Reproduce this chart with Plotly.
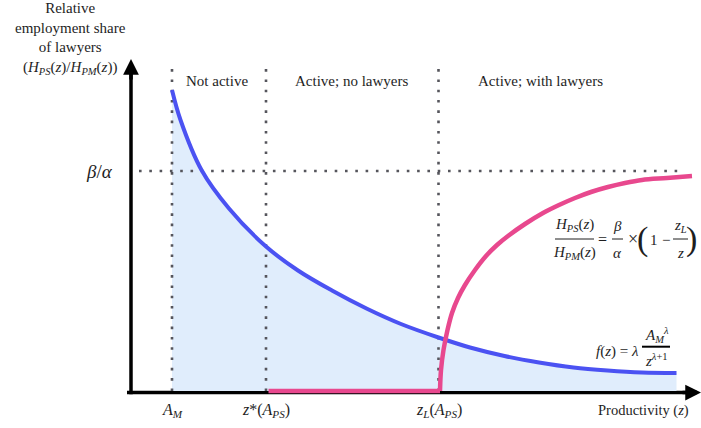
import plotly.graph_objects as go

# Density of firm productivity, f(z)
z_density = [0.82, 0.99, 1.41, 1.96, 2.70, 3.34, 4.02, 4.71, 5.40, 6.15,
             6.78, 7.47, 8.16, 8.85, 9.53, 10.22, 10.91]
f_density = [6.02, 5.42, 4.42, 3.65, 2.89, 2.41, 2.01, 1.65, 1.34, 1.07,
             0.87, 0.70, 0.57, 0.47, 0.41, 0.37, 0.36]

# Relative employment share of lawyers: zero while active without lawyers
z_share_flat = [2.75, 6.18]
share_flat = [0.0, 0.0]
# ... then rising towards beta/alpha once lawyers are hired
z_share = [6.18, 6.20, 6.25, 6.33, 6.42, 6.54, 6.68, 6.88, 7.10, 7.32, 7.54,
           7.88, 8.24, 8.56, 8.88, 9.20, 9.54, 9.88, 10.22, 10.72, 11.22]
share = [0.0, 0.42, 0.82, 1.22, 1.56, 1.86, 2.12, 2.42, 2.70, 2.92, 3.10,
         3.34, 3.56, 3.72, 3.86, 3.98, 4.08, 4.16, 4.22, 4.26, 4.30]

# Productivity thresholds and their labels
thresholds = [0.82, 2.70, 6.15]
threshold_labels = ["<i>A<sub>M</sub></i>",
                    "<i>z</i>*(<i>A<sub>PS</sub></i>)",
                    "<i>z<sub>L</sub></i>(<i>A<sub>PS</sub></i>)"]
beta_over_alpha = 4.40

regions = ["Not active", "Active; no lawyers", "Active; with lawyers"]
region_centers = [1.71, 4.41, 8.19]

FONT = "Liberation Serif, Times New Roman, serif"
TXT = "#1e1e1e"
BLUE = "#4b52f2"
PINK = "#e8488e"
FILL = "rgb(224,237,252)"
DOT = "#55555c"
DOTDASH = "2.6px,7.7px"

fig = go.Figure()

# shaded area under the density
fig.add_trace(go.Scatter(x=z_density, y=f_density, mode="lines", line=dict(width=0, shape="spline"),
                         fill="tozeroy", fillcolor=FILL, hoverinfo="skip"))

# dotted guides at the thresholds and at beta/alpha
top_guide = 6.52
for zt in thresholds:
    fig.add_trace(go.Scatter(x=[zt, zt], y=[0, top_guide], mode="lines",
                             line=dict(color=DOT, width=2.6, dash=DOTDASH), hoverinfo="skip"))
fig.add_trace(go.Scatter(x=[0.16, 10.96], y=[beta_over_alpha, beta_over_alpha], mode="lines",
                         line=dict(color=DOT, width=2.6, dash=DOTDASH), hoverinfo="skip"))

# density curve
fig.add_trace(go.Scatter(x=z_density, y=f_density, mode="lines",
                         line=dict(color=BLUE, width=4, shape="spline"), hoverinfo="skip"))

# lawyer share
fig.add_trace(go.Scatter(x=z_share_flat, y=share_flat, mode="lines",
                         line=dict(color=PINK, width=4.5), hoverinfo="skip"))
fig.add_trace(go.Scatter(x=z_share, y=share, mode="lines",
                         line=dict(color=PINK, width=4.5, shape="spline", smoothing=1.0),
                         hoverinfo="skip"))

annotations = []

# arrowheads at the ends of the two axes
annotations.append(dict(x=11.40, y=-0.03, ax=11.0, ay=-0.03, xref="x", yref="y",
                        axref="x", ayref="y", text="", showarrow=True, arrowhead=2,
                        arrowwidth=3.5, arrowsize=0.9, arrowcolor="black", standoff=0))
annotations.append(dict(x=0.0, y=6.64, ax=0.0, ay=6.2, xref="x", yref="y",
                        axref="x", ayref="y", text="", showarrow=True, arrowhead=2,
                        arrowwidth=3.5, arrowsize=0.9, arrowcolor="black", standoff=0))


def label(x, y, text, size=15, xanchor="center", yanchor="middle", align="center"):
    annotations.append(dict(x=x, y=y, xref="x", yref="y", text=text, showarrow=False,
                            xanchor=xanchor, yanchor=yanchor, align=align,
                            font=dict(family=FONT, size=size, color=TXT)))


# axis titles
label(-1.22, 7.06, "Relative<br>employment share<br>of lawyers<br>"
      "(<i>H<sub>PS</sub></i>(<i>z</i>)/<i>H<sub>PM</sub></i>(<i>z</i>))", size=15)
label(10.24, -0.38, "Productivity (<i>z</i>)", size=14.5)
label(-0.64, beta_over_alpha, "<i>β</i>/<i>α</i>", size=19)

for zt, txt in zip(thresholds, threshold_labels):
    label(zt, -0.38, txt, size=16)

for xc, txt in zip(region_centers, regions):
    label(xc, 6.2, txt, size=15)

# share formula:  H_PS/H_PM = beta/alpha x (1 - z_L/z)
label(8.87, 3.32, "<i>H<sub>PS</sub></i>(<i>z</i>)", size=15)
label(8.87, 2.77, "<i>H<sub>PM</sub></i>(<i>z</i>)", size=15)
label(9.42, 3.04, "=", size=16)
label(9.72, 3.30, "<i>β</i>", size=15)
label(9.72, 2.77, "<i>α</i>", size=15)
label(10.04, 3.05, "×", size=18)
label(10.22, 3.05, "(", size=34)
label(10.46, 3.03, "1", size=15)
label(10.70, 3.03, "−", size=15)
label(10.98, 3.30, "<i>z<sub>L</sub></i>", size=15)
label(10.98, 2.77, "<i>z</i>", size=15)
label(11.20, 3.05, ")", size=34)

# density formula:  f(z) = lambda A_M^lambda / z^(lambda+1)
label(9.72, 0.80, "<i>f</i>(<i>z</i>) = <i>λ</i>", size=15)
label(10.52, 1.13, "<i>A<sub>M</sub><sup>λ</sup></i>", size=15)
label(10.50, 0.62, "<i>z</i><sup><i>λ</i>+1</sup>", size=15)

shapes = [
    # axis lines, kept beneath the curves
    dict(type="line", xref="x", yref="y", x0=-0.08, x1=11.1, y0=-0.03, y1=-0.03,
         line=dict(color="black", width=3.5), layer="below"),
    dict(type="line", xref="x", yref="y", x0=0.0, x1=0.0, y0=-0.065, y1=6.4,
         line=dict(color="black", width=3.5), layer="below"),
    # fraction bars
    dict(type="line", xref="x", yref="y", x0=8.48, x1=9.26, y0=3.04, y1=3.04,
         line=dict(color=TXT, width=1)),
    dict(type="line", xref="x", yref="y", x0=9.62, x1=9.84, y0=3.04, y1=3.04,
         line=dict(color=TXT, width=1)),
    dict(type="line", xref="x", yref="y", x0=10.84, x1=11.14, y0=3.04, y1=3.04,
         line=dict(color=TXT, width=1)),
    dict(type="line", xref="x", yref="y", x0=10.22, x1=10.78, y0=0.886, y1=0.886,
         line=dict(color="black", width=2)),
]

fig.update_layout(
    width=701, height=428,
    margin=dict(l=0, r=0, t=0, b=0),
    paper_bgcolor="white", plot_bgcolor="white",
    showlegend=False, hovermode=False,
    font=dict(family=FONT),
    xaxis=dict(range=[-2.62, 11.40], visible=False, fixedrange=True),
    yaxis=dict(range=[-0.74, 7.82], visible=False, fixedrange=True),
    annotations=annotations, shapes=shapes,
)

fig.write_html("out.html", config={"displayModeBar": False})
